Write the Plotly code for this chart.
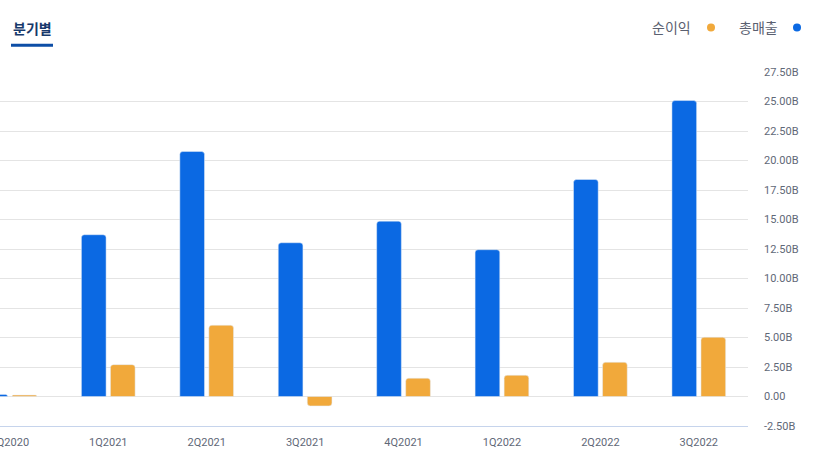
import plotly.graph_objects as go

categories = ["4Q2020", "1Q2021", "2Q2021", "3Q2021", "4Q2021", "1Q2022", "2Q2022", "3Q2022"]
revenue = [0.18, 13.71, 20.76, 13.03, 14.86, 12.44, 18.39, 25.08]      # 총매출 (B)
net_income = [0.12, 2.70, 6.04, -0.80, 1.55, 1.80, 2.90, 5.02]        # 순이익 (B)
y_tickvals = [-2.5, 0, 2.5, 5, 7.5, 10, 12.5, 15, 17.5, 20, 22.5, 25, 27.5]
y_ticktext = ["-2.50B", "0.00", "2.50B", "5.00B", "7.50B", "10.00B", "12.50B",
              "15.00B", "17.50B", "20.00B", "22.50B", "25.00B", "27.50B"]

BLUE = "#0B69E3"
ORANGE = "#F1A93B"
W, H = 818, 464
ML, MR, MT, MB = 0, 70, 72, 38
PW = W - ML - MR
PH = H - MT - MB

def px(x):
    return (x - ML) / PW

def py(y):
    return (H - MB - y) / PH

fig = go.Figure()
fig.add_trace(go.Bar(x=categories, y=revenue, name="총매출", marker_color=BLUE,
                     hoverinfo="x+y"))
fig.add_trace(go.Bar(x=categories, y=net_income, name="순이익", marker_color=ORANGE,
                     hoverinfo="x+y"))

fig.update_layout(
    width=W, height=H, autosize=False,
    margin=dict(l=ML, r=MR, t=MT, b=MB, pad=0, autoexpand=False),
    paper_bgcolor="white", plot_bgcolor="white",
    barmode="group", bargap=0.41, bargroupgap=0.15, barcornerradius=3,
    showlegend=False,
    font=dict(family="Roboto, 'Noto Sans CJK KR', sans-serif", size=11, color="#5f6877"),
)
fig.update_xaxes(
    type="category", range=[-0.1, 7.5], automargin=False,
    showgrid=False, zeroline=False,
    showline=True, linecolor="#c6d4ec", linewidth=1,
    ticks="", ticklabelstandoff=6,
    tickfont=dict(size=11, color="#5f6877"),
)
fig.update_yaxes(
    side="right", range=[-2.5, 27.5], automargin=False,
    tickvals=y_tickvals, ticktext=y_ticktext,
    showgrid=True, gridcolor="#e4e4e4", gridwidth=1,
    zeroline=True, zerolinecolor="#e4e4e4", zerolinewidth=1,
    showline=False, ticks="", ticklabelstandoff=15,
    tickfont=dict(size=11, color="#5f6877"),
)

# Title tab "분기별" with underline
fig.add_annotation(text="<b>분기별</b>", xref="paper", yref="paper",
                   x=px(11), y=py(28), xanchor="left", yanchor="middle",
                   showarrow=False,
                   font=dict(family="'Noto Sans CJK KR'", size=14, color="#17396b"))
fig.add_shape(type="rect", xref="paper", yref="paper",
              x0=px(11), x1=px(53), y0=py(46.7), y1=py(43.7),
              fillcolor="#0d4ea6", line=dict(width=0))

# Custom legend (text then dot)
legend_items = [("순이익", ORANGE, 693, 711), ("총매출", BLUE, 780, 797)]
for label, color, tx, cx in legend_items:
    fig.add_annotation(text=label, xref="paper", yref="paper",
                       x=px(tx), y=py(27.5), xanchor="right", yanchor="middle",
                       showarrow=False,
                       font=dict(family="'Noto Sans CJK KR'", size=14, color="#5a6070"))
    fig.add_shape(type="circle", xref="paper", yref="paper",
                  xsizemode="pixel", ysizemode="pixel",
                  xanchor=px(cx), yanchor=py(27.5),
                  x0=-4, x1=4, y0=-4, y1=4,
                  fillcolor=color, line=dict(width=0))

fig.write_html("out.html")
